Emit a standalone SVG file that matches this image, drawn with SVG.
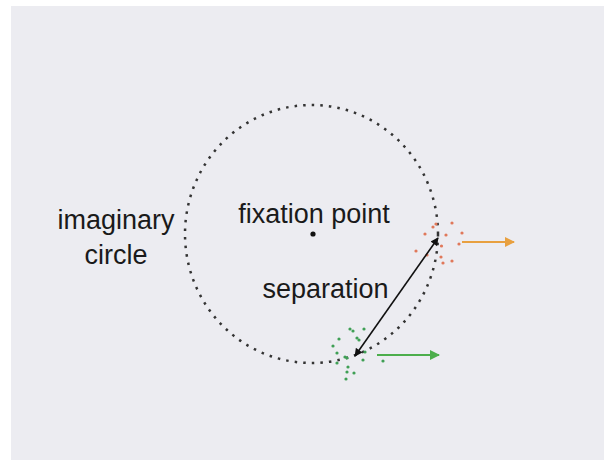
<svg xmlns="http://www.w3.org/2000/svg" width="604" height="460" viewBox="0 0 604 460">
<style>
text{font-family:"Liberation Sans",Arial,sans-serif;font-size:27px;fill:#1a1a1a;text-anchor:middle}
.od{fill:#e0785a}
.gd{fill:#3f9f55}
</style>
<defs>
<marker id="ah" viewBox="0 0 10 10" refX="9" refY="5" markerWidth="10" markerHeight="8" markerUnits="userSpaceOnUse" orient="auto-start-reverse"><path d="M0,0 L10,5 L0,10 Z" fill="#111"/></marker>
<marker id="ao" viewBox="0 0 10 10" refX="9" refY="5" markerWidth="11" markerHeight="10" markerUnits="userSpaceOnUse" orient="auto"><path d="M0,0 L10,5 L0,10 Z" fill="#e8a040"/></marker>
<marker id="ag" viewBox="0 0 10 10" refX="9" refY="5" markerWidth="11" markerHeight="10" markerUnits="userSpaceOnUse" orient="auto"><path d="M0,0 L10,5 L0,10 Z" fill="#4cae4c"/></marker>
</defs>
<rect x="0" y="0" width="604" height="460" fill="#ffffff"/>
<rect x="11" y="6" width="593" height="454" fill="#ececf1"/>
<g id="circle">
<ellipse cx="311.5" cy="234" rx="126.5" ry="129" fill="none" stroke="#333" stroke-width="2.5" stroke-dasharray="2.5 6.1"/>
</g>
<g id="fixation">
<circle cx="313" cy="234" r="2.6" fill="#111"/>
<text x="314" y="223">fixation point</text>
</g>
<g id="label-circle">
<text x="116" y="229">imaginary</text>
<text x="116" y="264">circle</text>
</g>
<g id="orange-stimulus">
<circle class="od" cx="416" cy="251" r="1.6"/>
<circle class="od" cx="425" cy="234" r="1.6"/>
<circle class="od" cx="427" cy="255" r="1.6"/>
<circle class="od" cx="433" cy="227" r="1.6"/>
<circle class="od" cx="436" cy="224" r="1.6"/>
<circle class="od" cx="441.5" cy="246" r="1.6"/>
<circle class="od" cx="441" cy="257" r="1.6"/>
<circle class="od" cx="443" cy="263" r="1.6"/>
<circle class="od" cx="446" cy="235" r="1.6"/>
<circle class="od" cx="452" cy="223" r="1.6"/>
<circle class="od" cx="452" cy="261" r="1.6"/>
<circle class="od" cx="459" cy="244" r="1.6"/>
<circle class="od" cx="462" cy="233" r="1.6"/>
</g>
<g id="green-stimulus">
<circle class="gd" cx="350" cy="329" r="1.6"/>
<circle class="gd" cx="353" cy="331" r="1.6"/>
<circle class="gd" cx="364" cy="329" r="1.6"/>
<circle class="gd" cx="339" cy="339" r="1.6"/>
<circle class="gd" cx="357" cy="338" r="1.6"/>
<circle class="gd" cx="359" cy="340" r="1.6"/>
<circle class="gd" cx="333" cy="346" r="1.6"/>
<circle class="gd" cx="337" cy="353" r="1.6"/>
<circle class="gd" cx="345" cy="357" r="1.6"/>
<circle class="gd" cx="347" cy="358" r="1.6"/>
<circle class="gd" cx="337" cy="363" r="1.6"/>
<circle class="gd" cx="348" cy="367" r="1.6"/>
<circle class="gd" cx="347" cy="372" r="1.6"/>
<circle class="gd" cx="354" cy="373" r="1.6"/>
<circle class="gd" cx="346" cy="379" r="1.6"/>
<circle class="gd" cx="363" cy="360" r="1.6"/>
<circle class="gd" cx="365" cy="352" r="1.6"/>
<circle class="gd" cx="383" cy="361" r="1.6"/>
</g>
<g id="separation-label">
<text x="325.5" y="298">separation</text>
</g>
<g id="connectors">
<line x1="355" y1="356" x2="438" y2="238" stroke="#111" stroke-width="1.6" marker-start="url(#ah)" marker-end="url(#ah)"/>
<line x1="462" y1="242" x2="514" y2="242" stroke="#e8a040" stroke-width="2.2" marker-end="url(#ao)"/>
<line x1="377" y1="355" x2="439" y2="355" stroke="#4cae4c" stroke-width="2.2" marker-end="url(#ag)"/>
</g>
</svg>
